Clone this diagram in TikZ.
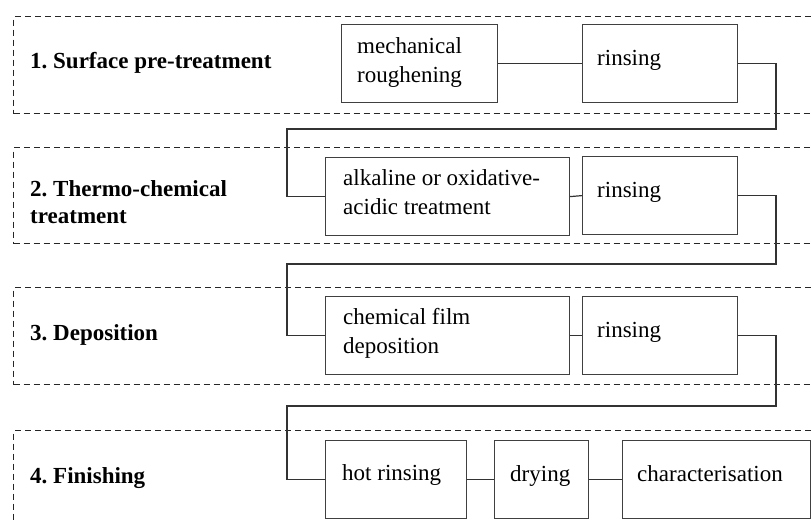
\documentclass[tikz,border=0pt]{standalone}
\usepackage{fontspec}
\setmainfont{Liberation Serif}
\usetikzlibrary{calc}
\frenchspacing
\begin{document}
\begin{tikzpicture}[x=1pt,y=-1pt,
  stage/.style={draw=black!85, line width=1.4pt, dash pattern=on 6pt off 4pt, rectangle, inner sep=0pt, anchor=north west},
  box/.style={draw=black!75, line width=1.2pt, rectangle, inner sep=0pt, anchor=north west},
  link/.style={draw=black!80, line width=1.2pt},
  lbl/.style={font=\fontsize{23}{27}\selectfont\bfseries, anchor=base west, inner sep=0pt, align=left},
  txt/.style={font=\fontsize{23}{29}\selectfont, anchor=base west, inner sep=0pt, align=left}]
\useasboundingbox (0,0) rectangle (811,522);
\clip (0,0) rectangle (811,522);
% stages
\node[stage, minimum width=830pt, minimum height=97pt] (s1) at (13,16) {};
\node[stage, minimum width=830pt, minimum height=96pt] (s2) at (13,147) {};
\node[stage, minimum width=830pt, minimum height=97pt] (s3) at (13,287) {};
\node[stage, minimum width=830pt, minimum height=97pt] (s4) at (13,430) {};
% stage labels (base anchor = last line)
\node[lbl] (l1) at (30,68) {1. Surface pre-treatment};
\node[lbl] (l2) at (30,223) {2. Thermo-chemical\\treatment};
\node[lbl] (l3) at (30,340) {3. Deposition};
\node[lbl] (l4) at (30,483) {4. Finishing};
% boxes
\node[box, minimum width=156pt, minimum height=78pt] (mr) at (341,24) {};
\node[box, minimum width=155pt, minimum height=78pt] (r1) at (582,24) {};
\node[box, minimum width=244pt, minimum height=78pt] (at) at (325,157) {};
\node[box, minimum width=155pt, minimum height=78pt] (r2) at (582,156) {};
\node[box, minimum width=244pt, minimum height=78pt] (cf) at (325,296) {};
\node[box, minimum width=155pt, minimum height=78pt] (r3) at (582,296) {};
\node[box, minimum width=141pt, minimum height=78pt] (hr) at (325,440) {};
\node[box, minimum width=94pt, minimum height=78pt] (dr) at (494,440) {};
\node[box, minimum width=188pt, minimum height=78pt] (ch) at (622,440) {};
% box texts
\node[txt] (mrt) at ($(mr.north west)+(16,58)$) {mechanical\\roughening};
\node[txt] (r1t) at ($(r1.north west)+(15,41)$) {rinsing};
\node[txt] (att) at ($(at.north west)+(18,57)$) {alkaline or oxidative-\\acidic treatment};
\node[txt] (r2t) at ($(r2.north west)+(15,41)$) {rinsing};
\node[txt] (cft) at ($(cf.north west)+(18,57)$) {chemical film\\deposition};
\node[txt] (r3t) at ($(r3.north west)+(15,41)$) {rinsing};
\node[txt] (hrt) at ($(hr.north west)+(17,40)$) {hot rinsing};
\node[txt] (drt) at ($(dr.north west)+(16,41)$) {drying};
\node[txt] (cht) at ($(ch.north west)+(15,41)$) {characterisation};
% connectors
\coordinate (k1) at (776,129);
\coordinate (k1b) at (287,129);
\coordinate (k2) at (776,264);
\coordinate (k2b) at (287,264);
\coordinate (k3) at (776,406);
\coordinate (k3b) at (287,406);
\draw[link] (mr.east) -- (r1.west);
\draw[link] (r1.east) -| (k1) -- (k1b) |- (at.west);
\draw[link] (at.east) -- (r2.west);
\draw[link] (r2.east) -| (k2) -- (k2b) |- (cf.west);
\draw[link] (cf.east) -- (r3.west);
\draw[link] (r3.east) -| (k3) -- (k3b) |- (hr.west);
\draw[link] (hr.east) -- (dr.west);
\draw[link] (dr.east) -- (ch.west);
\end{tikzpicture}
\end{document}
